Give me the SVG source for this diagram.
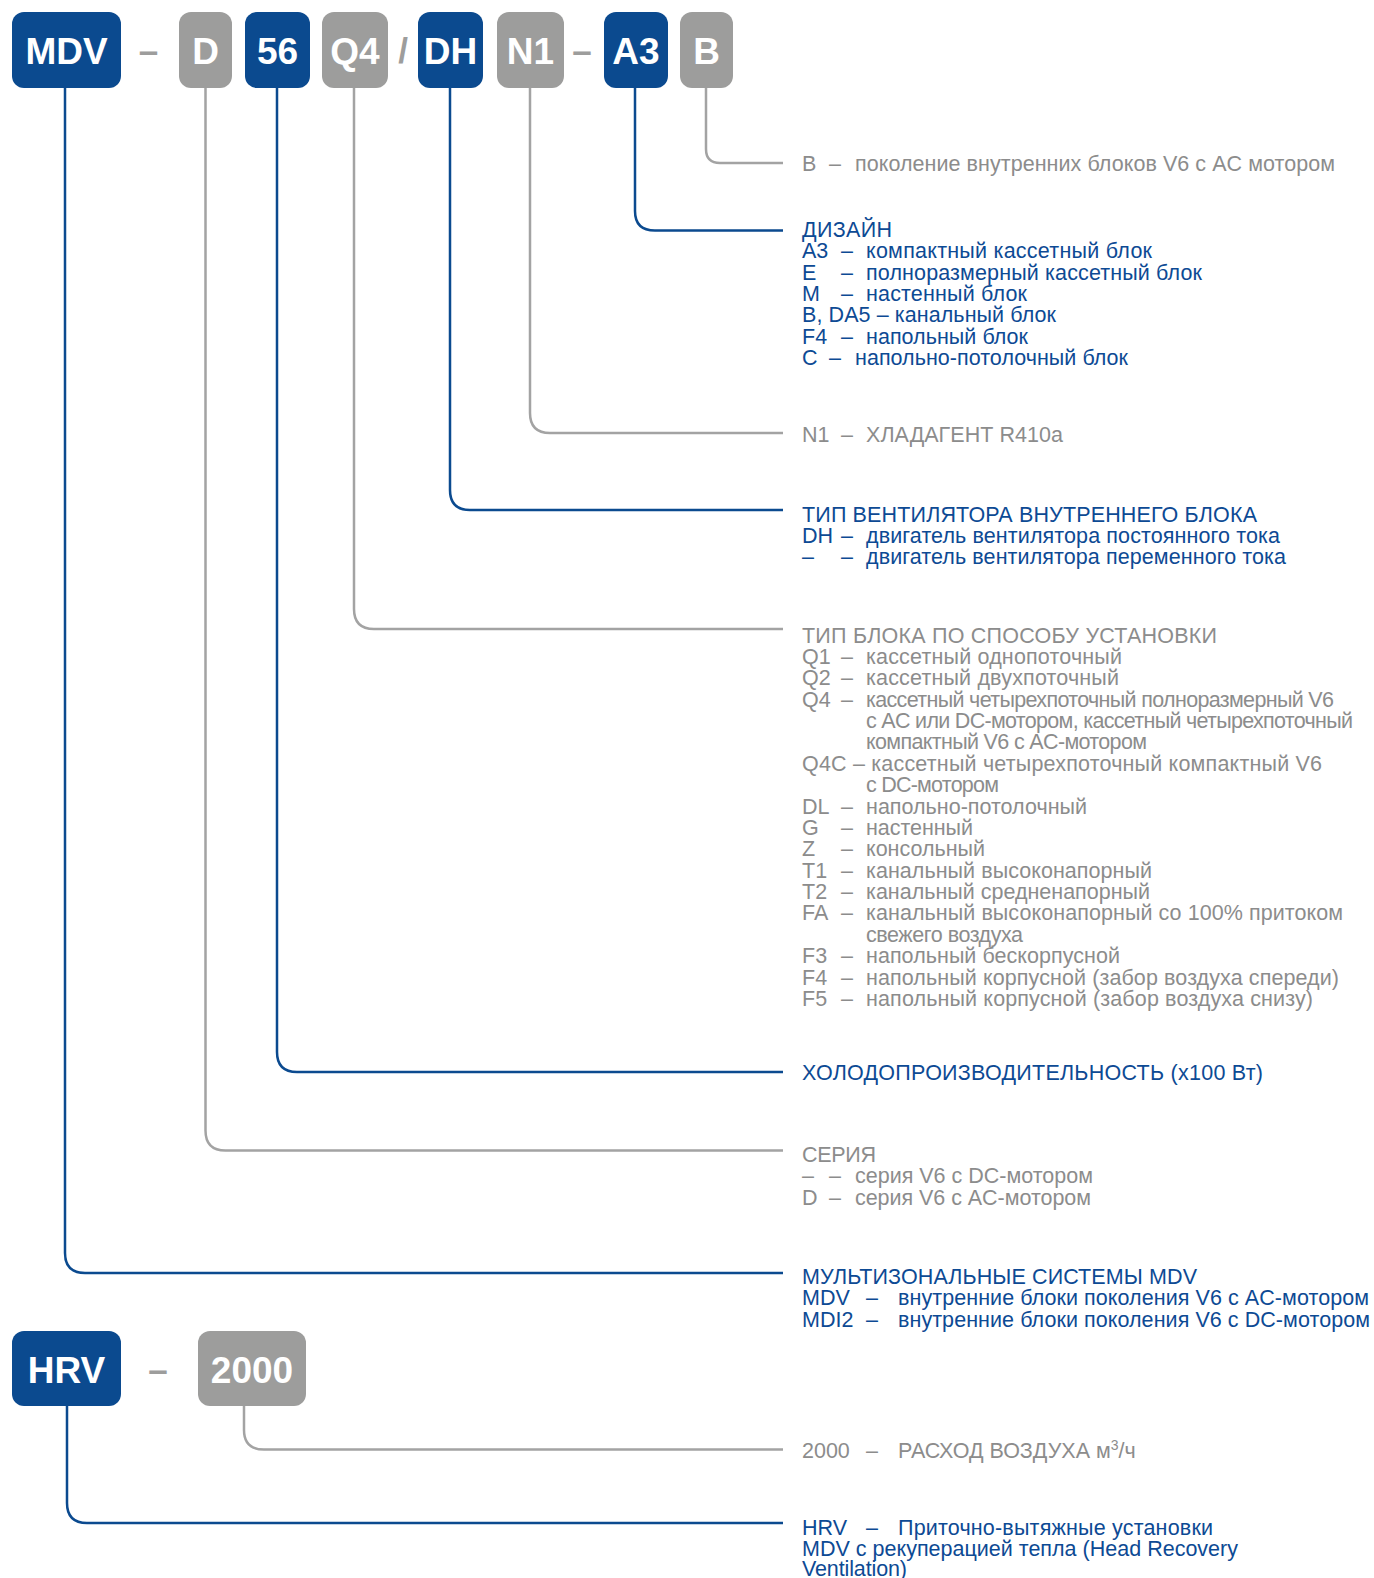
<svg xmlns="http://www.w3.org/2000/svg" width="1374" height="1578" viewBox="0 0 1374 1578">
<style>
.bb{fill:#0b4a8f}
.gb{fill:#9d9d9c}
.bt{font-family:"Liberation Sans",Arial,sans-serif;font-weight:bold;font-size:37px;fill:#fff;text-anchor:middle}
.sep{font-family:"Liberation Sans",Arial,sans-serif;font-weight:bold;font-size:35px;fill:#9d9d9c;text-anchor:middle}
.cb{fill:none;stroke:#0b4a8f;stroke-width:2.5}
.cg{fill:none;stroke:#a3a3a3;stroke-width:2.5}
.tb{font-family:"Liberation Sans",Arial,sans-serif;font-size:21.5px;fill:#0d4a94}
.tg{font-family:"Liberation Sans",Arial,sans-serif;font-size:21.5px;fill:#8c8c8c}
</style>
<rect width="1374" height="1578" fill="#fff"/>
<g id="connectors">
<path class="cb" d="M65 88 V1253 Q65 1273 85 1273 H783"/>
<path class="cg" d="M205.5 88 V1130.5 Q205.5 1150.5 225.5 1150.5 H783"/>
<path class="cb" d="M277 88 V1052 Q277 1072 297 1072 H783"/>
<path class="cg" d="M354 88 V609 Q354 629 374 629 H783"/>
<path class="cb" d="M450 88 V490 Q450 510 470 510 H783"/>
<path class="cg" d="M530 88 V413 Q530 433 550 433 H783"/>
<path class="cb" d="M635 88 V211 Q635 230.5 655 230.5 H783"/>
<path class="cg" d="M706 88 V149 Q706 163 720 163 H783"/>
<path class="cb" d="M67 1406 V1503 Q67 1523 87 1523 H783"/>
<path class="cg" d="M244 1406 V1430 Q244 1449.5 264 1449.5 H783"/>
</g>
<g id="node-MDV"><rect class="bb" x="12" y="12" width="109" height="76" rx="12"/><text class="bt" x="66.5" y="63.5">MDV</text></g>
<text class="sep" x="148.5" y="62.5">–</text>
<g id="node-D"><rect class="gb" x="179" y="12" width="53" height="76" rx="12"/><text class="bt" x="205.5" y="63.5">D</text></g>
<g id="node-56"><rect class="bb" x="245" y="12" width="65" height="76" rx="12"/><text class="bt" x="277.5" y="63.5">56</text></g>
<g id="node-Q4"><rect class="gb" x="322" y="12" width="66" height="76" rx="12"/><text class="bt" x="355" y="63.5">Q4</text></g>
<text class="sep" x="403" y="62.5">/</text>
<g id="node-DH"><rect class="bb" x="418" y="12" width="65" height="76" rx="12"/><text class="bt" x="450.5" y="63.5">DH</text></g>
<g id="node-N1"><rect class="gb" x="497" y="12" width="67" height="76" rx="12"/><text class="bt" x="530.5" y="63.5">N1</text></g>
<text class="sep" x="582" y="62.5">–</text>
<g id="node-A3"><rect class="bb" x="604" y="12" width="64" height="76" rx="12"/><text class="bt" x="636" y="63.5">A3</text></g>
<g id="node-B"><rect class="gb" x="680" y="12" width="53" height="76" rx="12"/><text class="bt" x="706.5" y="63.5">B</text></g>
<g id="node-HRV"><rect class="bb" x="12" y="1331" width="109" height="75" rx="12"/><text class="bt" x="66.5" y="1382.5">HRV</text></g>
<text class="sep" x="158" y="1381.5">–</text>
<g id="node-2000"><rect class="gb" x="198" y="1331" width="108" height="75" rx="12"/><text class="bt" x="252" y="1382.5">2000</text></g>

<g id="label-B">
<text class="tg" y="171"><tspan x="802">B</tspan><tspan x="829">–</tspan></text>
<text class="tg" x="855" y="171" textLength="480">поколение внутренних блоков V6 с AC мотором</text>
</g>

<g id="label-A3">
<text class="tb" x="802" y="237" textLength="90">ДИЗАЙН</text>
<text class="tb" y="258.3"><tspan x="802">A3</tspan><tspan x="841">–</tspan></text>
<text class="tb" x="866" y="258.3" textLength="286">компактный кассетный блок</text>
<text class="tb" y="279.6"><tspan x="802">E</tspan><tspan x="841">–</tspan></text>
<text class="tb" x="866" y="279.6" textLength="336">полноразмерный кассетный блок</text>
<text class="tb" y="301"><tspan x="802">M</tspan><tspan x="841">–</tspan></text>
<text class="tb" x="866" y="301" textLength="161">настенный блок</text>
<text class="tb" x="802" y="322.3" textLength="254">B, DA5 – канальный блок</text>
<text class="tb" y="343.6"><tspan x="802">F4</tspan><tspan x="841">–</tspan></text>
<text class="tb" x="866" y="343.6" textLength="162">напольный блок</text>
<text class="tb" y="365"><tspan x="802">C</tspan><tspan x="829">–</tspan></text>
<text class="tb" x="855" y="365" textLength="273">напольно-потолочный блок</text>
</g>

<g id="label-N1">
<text class="tg" y="441.5"><tspan x="802">N1</tspan><tspan x="841">–</tspan></text>
<text class="tg" x="866" y="441.5" textLength="197">ХЛАДАГЕНТ R410a</text>
</g>

<g id="label-DH">
<text class="tb" x="802" y="521.5" textLength="455">ТИП ВЕНТИЛЯТОРА ВНУТРЕННЕГО БЛОКА</text>
<text class="tb" y="542.8"><tspan x="802">DH</tspan><tspan x="841">–</tspan></text>
<text class="tb" x="866" y="542.8" textLength="414">двигатель вентилятора постоянного тока</text>
<text class="tb" y="564.2"><tspan x="802">–</tspan><tspan x="841">–</tspan></text>
<text class="tb" x="866" y="564.2" textLength="420">двигатель вентилятора переменного тока</text>
</g>

<g id="label-Q4">
<text class="tg" x="802" y="642.5" textLength="415">ТИП БЛОКА ПО СПОСОБУ УСТАНОВКИ</text>
<text class="tg" y="663.9"><tspan x="802">Q1</tspan><tspan x="841">–</tspan></text>
<text class="tg" x="866" y="663.9" textLength="256">кассетный однопоточный</text>
<text class="tg" y="685.3"><tspan x="802">Q2</tspan><tspan x="841">–</tspan></text>
<text class="tg" x="866" y="685.3" textLength="253">кассетный двухпоточный</text>
<text class="tg" y="706.6"><tspan x="802">Q4</tspan><tspan x="841">–</tspan></text>
<text class="tg" x="866" y="706.6" textLength="468">кассетный четырехпоточный полноразмерный V6</text>
<text class="tg" x="866" y="728" textLength="487">с AC или DC-мотором, кассетный четырехпоточный</text>
<text class="tg" x="866" y="749.4" textLength="281">компактный V6 с AC-мотором</text>
<text class="tg" x="802" y="770.8" textLength="520">Q4C – кассетный четырехпоточный компактный V6</text>
<text class="tg" x="866" y="792.2" textLength="133">с DC-мотором</text>
<text class="tg" y="813.5"><tspan x="802">DL</tspan><tspan x="841">–</tspan></text>
<text class="tg" x="866" y="813.5" textLength="221">напольно-потолочный</text>
<text class="tg" y="834.9"><tspan x="802">G</tspan><tspan x="841">–</tspan></text>
<text class="tg" x="866" y="834.9" textLength="107">настенный</text>
<text class="tg" y="856.3"><tspan x="802">Z</tspan><tspan x="841">–</tspan></text>
<text class="tg" x="866" y="856.3" textLength="119">консольный</text>
<text class="tg" y="877.7"><tspan x="802">T1</tspan><tspan x="841">–</tspan></text>
<text class="tg" x="866" y="877.7" textLength="286">канальный высоконапорный</text>
<text class="tg" y="899"><tspan x="802">T2</tspan><tspan x="841">–</tspan></text>
<text class="tg" x="866" y="899" textLength="284">канальный средненапорный</text>
<text class="tg" y="920.4"><tspan x="802">FA</tspan><tspan x="841">–</tspan></text>
<text class="tg" x="866" y="920.4" textLength="477">канальный высоконапорный со 100% притоком</text>
<text class="tg" x="866" y="941.8" textLength="157">свежего воздуха</text>
<text class="tg" y="963.2"><tspan x="802">F3</tspan><tspan x="841">–</tspan></text>
<text class="tg" x="866" y="963.2" textLength="254">напольный бескорпусной</text>
<text class="tg" y="984.6"><tspan x="802">F4</tspan><tspan x="841">–</tspan></text>
<text class="tg" x="866" y="984.6" textLength="473">напольный корпусной (забор воздуха спереди)</text>
<text class="tg" y="1006"><tspan x="802">F5</tspan><tspan x="841">–</tspan></text>
<text class="tg" x="866" y="1006" textLength="447">напольный корпусной (забор воздуха снизу)</text>
</g>

<g id="label-56"><text class="tb" x="802" y="1079.5" textLength="461">ХОЛОДОПРОИЗВОДИТЕЛЬНОСТЬ (x100 Вт)</text></g>

<g id="label-D">
<text class="tg" x="802" y="1162" textLength="74">СЕРИЯ</text>
<text class="tg" y="1183.4"><tspan x="802">–</tspan><tspan x="829">–</tspan></text>
<text class="tg" x="855" y="1183.4" textLength="238">серия V6 с DC-мотором</text>
<text class="tg" y="1204.7"><tspan x="802">D</tspan><tspan x="829">–</tspan></text>
<text class="tg" x="855" y="1204.7" textLength="236">серия V6 с AC-мотором</text>
</g>

<g id="label-MDV">
<text class="tb" x="802" y="1284" textLength="395">МУЛЬТИЗОНАЛЬНЫЕ СИСТЕМЫ MDV</text>
<text class="tb" y="1305.3"><tspan x="802">MDV</tspan><tspan x="866">–</tspan></text>
<text class="tb" x="898" y="1305.3" textLength="471">внутренние блоки поколения V6 с AC-мотором</text>
<text class="tb" y="1326.6"><tspan x="802">MDI2</tspan><tspan x="866">–</tspan></text>
<text class="tb" x="898" y="1326.6" textLength="472">внутренние блоки поколения V6 с DC-мотором</text>
</g>

<g id="label-2000"><text class="tg" y="1458"><tspan x="802">2000</tspan><tspan x="866">–</tspan><tspan x="898">РАСХОД ВОЗДУХА м</tspan><tspan font-size="14" dy="-8">3</tspan><tspan dy="8">/ч</tspan></text></g>

<g id="label-HRV">
<text class="tb" y="1534.5"><tspan x="802">HRV</tspan><tspan x="866">–</tspan></text>
<text class="tb" x="898" y="1534.5" textLength="315">Приточно-вытяжные установки</text>
<text class="tb" x="802" y="1555.8" textLength="436">MDV с рекуперацией тепла (Head Recovery</text>
<text class="tb" x="802" y="1576" textLength="105">Ventilation)</text>
</g>
</svg>
